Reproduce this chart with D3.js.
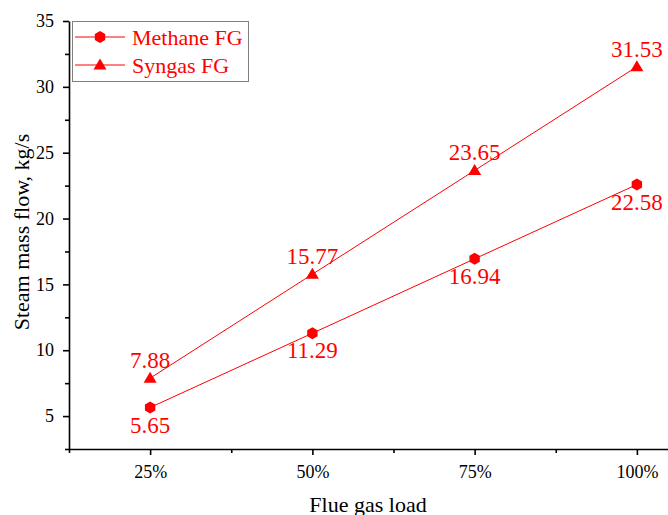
<!DOCTYPE html>
<html>
<head>
<meta charset="utf-8">
<script src="https://cdn.jsdelivr.net/npm/d3@7"></script>
<style>
	body{margin:0;background:#fff;}
	svg{display:block;font-family:"Liberation Serif","Times New Roman",serif;}
	.axis path,.axis line{stroke:#000;stroke-width:1.6;}
	.axis text{fill:#000;font-size:18px;font-family:"Liberation Serif","Times New Roman",serif;}
</style>
</head>
<body>
<div id="chart"></div>
<script>
var categories=["25%","50%","75%","100%"];
var methane=[5.65,11.29,16.94,22.58];
var syngas=[7.88,15.77,23.65,31.53];
var seriesNames=["Methane FG","Syngas FG"];
var yTicks=[5,10,15,20,25,30,35];

var width=668, height=515;
var plotL=69, plotT=21, plotB=449, plotR=718;
var red="#ff0000";

var svg=d3.select("#chart").append("svg")
	.attr("width",width).attr("height",height);

var x=d3.scaleLinear().domain([0.5,4.5]).range([plotL,plotR]);
var y=d3.scaleLinear().domain([2.5,35]).range([plotB,plotT]);

// hexagon (pointy top) and triangle marker paths
function hexPath(r){
	var p=d3.path();
	for(var i=0;i<6;i++){
		var a=(-90+60*i)*Math.PI/180;
		if(i==0){p.moveTo(r*Math.cos(a),r*Math.sin(a));}
		else{p.lineTo(r*Math.cos(a),r*Math.sin(a));}
	}
	p.closePath();
	return p.toString();
}
function triPath(){
	var p=d3.path();
	p.moveTo(0,-6.5);p.lineTo(6.5,4.5);p.lineTo(-6.5,4.5);p.closePath();
	return p.toString();
}

// x axis (major + minor)
var xAxis=svg.append("g").attr("class","axis")
	.attr("transform","translate(0,"+plotB+")")
	.call(d3.axisBottom(x).tickValues([1,2,3,4]).tickSize(6).tickSizeOuter(0)
		.tickFormat(function(d){return categories[d-1];}));
xAxis.selectAll("text").attr("y",16).attr("dy","0.71em");
svg.append("g").attr("class","axis")
	.attr("transform","translate(0,"+plotB+")")
	.call(d3.axisBottom(x).tickValues([0.5,1.5,2.5,3.5]).tickSize(4).tickFormat(""))
	.select(".domain").remove();

// y axis (major + minor)
var yAxis=svg.append("g").attr("class","axis")
	.attr("transform","translate("+plotL+",0)")
	.call(d3.axisLeft(y).tickValues(yTicks).tickSize(6).tickSizeOuter(0));
yAxis.selectAll("text").attr("x",-15);
svg.append("g").attr("class","axis")
	.attr("transform","translate("+plotL+",0)")
	.call(d3.axisLeft(y).tickValues([2.5,7.5,12.5,17.5,22.5,27.5,32.5]).tickSize(4).tickFormat(""))
	.select(".domain").remove();

// axis titles
svg.append("text")
	.attr("x",368).attr("y",512)
	.attr("text-anchor","middle").attr("font-size",22)
	.text("Flue gas load");
svg.append("text")
	.attr("transform","translate(29,232) rotate(-90)")
	.attr("text-anchor","middle").attr("font-size",22)
	.text("Steam mass flow, kg/s");

// lines
var line=d3.line()
	.x(function(d,i){return x(i+1);})
	.y(function(d){return y(d);});
[methane,syngas].forEach(function(s){
	svg.append("path").datum(s)
		.attr("d",line)
		.attr("fill","none").attr("stroke",red).attr("stroke-width",1);
});

// markers
svg.selectAll("path.hex").data(methane).enter().append("path")
	.attr("class","hex")
	.attr("d",hexPath(6))
	.attr("transform",function(d,i){return "translate("+x(i+1)+","+y(d)+")";})
	.attr("fill",red);
svg.selectAll("path.tri").data(syngas).enter().append("path")
	.attr("class","tri")
	.attr("d",triPath())
	.attr("transform",function(d,i){return "translate("+x(i+1)+","+y(d)+")";})
	.attr("fill",red);

// value labels
svg.selectAll("text.mlab").data(methane).enter().append("text")
	.attr("class","mlab")
	.attr("x",function(d,i){return x(i+1);})
	.attr("y",function(d){return y(d)+25;})
	.attr("text-anchor","middle").attr("font-size",23).attr("fill",red)
	.text(function(d){return d.toFixed(2);});
svg.selectAll("text.slab").data(syngas).enter().append("text")
	.attr("class","slab")
	.attr("x",function(d,i){return x(i+1);})
	.attr("y",function(d){return y(d)-10;})
	.attr("text-anchor","middle").attr("font-size",23).attr("fill",red)
	.text(function(d){return d.toFixed(2);});

// legend
var legend=svg.append("g");
legend.append("rect")
	.attr("x",72.5).attr("y",21.5).attr("width",176).attr("height",60)
	.attr("fill","#fff").attr("stroke","#808080").attr("stroke-width",1);
var rows=legend.selectAll("g.row").data(seriesNames).enter().append("g")
	.attr("class","row")
	.attr("transform",function(d,i){return "translate(0,"+(37+i*28)+")";});
rows.append("line")
	.attr("x1",75).attr("x2",125).attr("y1",0).attr("y2",0)
	.attr("stroke",red).attr("stroke-width",1);
rows.append("path")
	.attr("d",function(d,i){return i==0?hexPath(6):triPath();})
	.attr("transform","translate(100,0)")
	.attr("fill",red);
rows.append("text")
	.attr("x",132).attr("y",8)
	.attr("font-size",22).attr("fill",red)
	.text(function(d){return d;});
</script>
</body>
</html>
